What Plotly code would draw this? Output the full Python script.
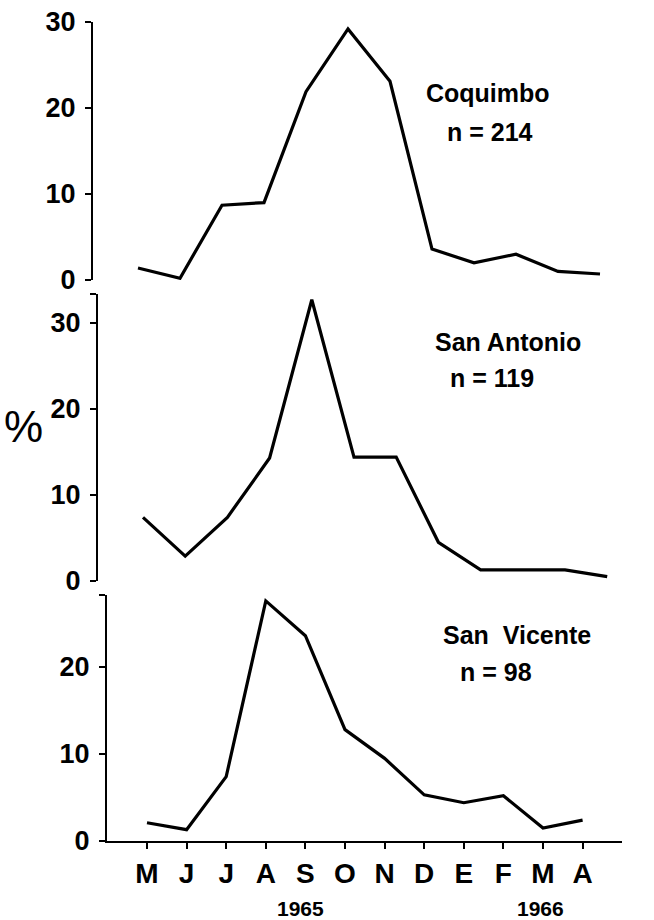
import plotly.graph_objects as go

# Monthly percentage of catch, May 1965 – April 1966
months = ["M", "J", "J", "A", "S", "O", "N", "D", "E", "F", "M", "A"]
coquimbo = [1.4, 0.2, 8.7, 9.0, 21.9, 29.2, 23.1, 3.6, 2.0, 3.0, 1.0, 0.7]
san_antonio = [7.4, 2.9, 7.4, 14.3, 32.7, 14.4, 14.4, 4.5, 1.3, 1.3, 1.3, 0.5]
san_vicente = [2.1, 1.3, 7.4, 27.6, 23.6, 12.8, 9.5, 5.3, 4.4, 5.2, 1.5, 2.4]

W, H = 654, 920
FONT = "Liberation Sans Narrow, Liberation Sans, Arial, sans-serif"
idx = list(range(len(months)))


def px_x(p):
    return p / W


def px_y(p):
    return 1 - p / H


def x_layout(axis_px, first_px, step, right_px, anchor, show):
    lo = (axis_px - first_px) / step
    hi = (right_px - first_px) / step
    d = dict(domain=[px_x(axis_px), px_x(right_px)], range=[lo, hi],
             anchor=anchor, showgrid=False, zeroline=False, automargin=False)
    if show:
        d.update(showline=True, linecolor="black", linewidth=2,
                 ticks="outside", ticklen=6, tickwidth=2, tickcolor="black",
                 tickvals=idx, ticktext=months, ticklabelstandoff=0,
                 tickfont=dict(family=FONT, size=28, color="black", weight="bold"))
    else:
        d.update(showline=False, showticklabels=False, ticks="")
    return d


def y_layout(zero_px, top_px, unit_px, tick_vals, anchor):
    top_val = (zero_px - top_px) / unit_px
    vals = list(tick_vals)
    text = [str(v) for v in tick_vals]
    if abs(top_val - vals[-1]) > 0.5:
        vals.append(top_val)
        text.append("")
    return dict(domain=[px_y(zero_px), px_y(top_px)], range=[0, top_val],
                anchor=anchor, showgrid=False, zeroline=False, automargin=False,
                showline=True, linecolor="black", linewidth=2,
                ticks="outside", ticklen=6, tickwidth=2, tickcolor="black",
                tickvals=vals, ticktext=text, ticklabelstandoff=4,
                tickfont=dict(family=FONT, size=27, color="black", weight="bold"))


fig = go.Figure()
line = dict(color="black", width=3.2)
fig.add_trace(go.Scatter(x=idx, y=san_vicente, mode="lines", line=line,
                         xaxis="x", yaxis="y", showlegend=False))
fig.add_trace(go.Scatter(x=idx, y=san_antonio, mode="lines", line=line,
                         xaxis="x2", yaxis="y2", showlegend=False))
fig.add_trace(go.Scatter(x=idx, y=coquimbo, mode="lines", line=line,
                         xaxis="x3", yaxis="y3", showlegend=False))

fig.update_layout(
    template="none",
    width=W, height=H,
    margin=dict(l=0, r=0, t=0, b=0, pad=0),
    paper_bgcolor="white", plot_bgcolor="rgba(0,0,0,0)",
    xaxis=x_layout(107, 147, 39.6, 622, "y", True),
    xaxis2=x_layout(98, 143, 42.2, 640, "y2", False),
    xaxis3=x_layout(93, 138, 42.0, 640, "y3", False),
    yaxis=y_layout(841, 595, 8.7, [0, 10, 20], "x"),
    yaxis2=y_layout(581, 294, 8.6, [0, 10, 20, 30], "x2"),
    yaxis3=y_layout(280, 22, 8.6, [0, 10, 20, 30], "x3"),
)

labels = [
    ("Coquimbo", 488, 93), ("n = 214", 490, 132),
    ("San Antonio", 508, 342), ("n = 119", 492, 378),
    ("San  Vicente", 517, 635), ("n = 98", 496, 672),
]
for text, x, y in labels:
    fig.add_annotation(text=text, x=px_x(x), y=px_y(y), xref="paper", yref="paper",
                       showarrow=False, xanchor="center", yanchor="middle",
                       font=dict(family=FONT, size=25, color="black", weight="bold"))

for text, x in [("1965", 300), ("1966", 540)]:
    fig.add_annotation(text=text, x=px_x(x), y=px_y(908), xref="paper", yref="paper",
                       showarrow=False, xanchor="center", yanchor="middle",
                       font=dict(family=FONT, size=21, color="black", weight="bold"))

fig.add_annotation(text="%", x=px_x(23), y=px_y(426), xref="paper", yref="paper",
                   showarrow=False, xanchor="center", yanchor="middle",
                   font=dict(family=FONT, size=44, color="black"))

fig.write_html("out.html")
